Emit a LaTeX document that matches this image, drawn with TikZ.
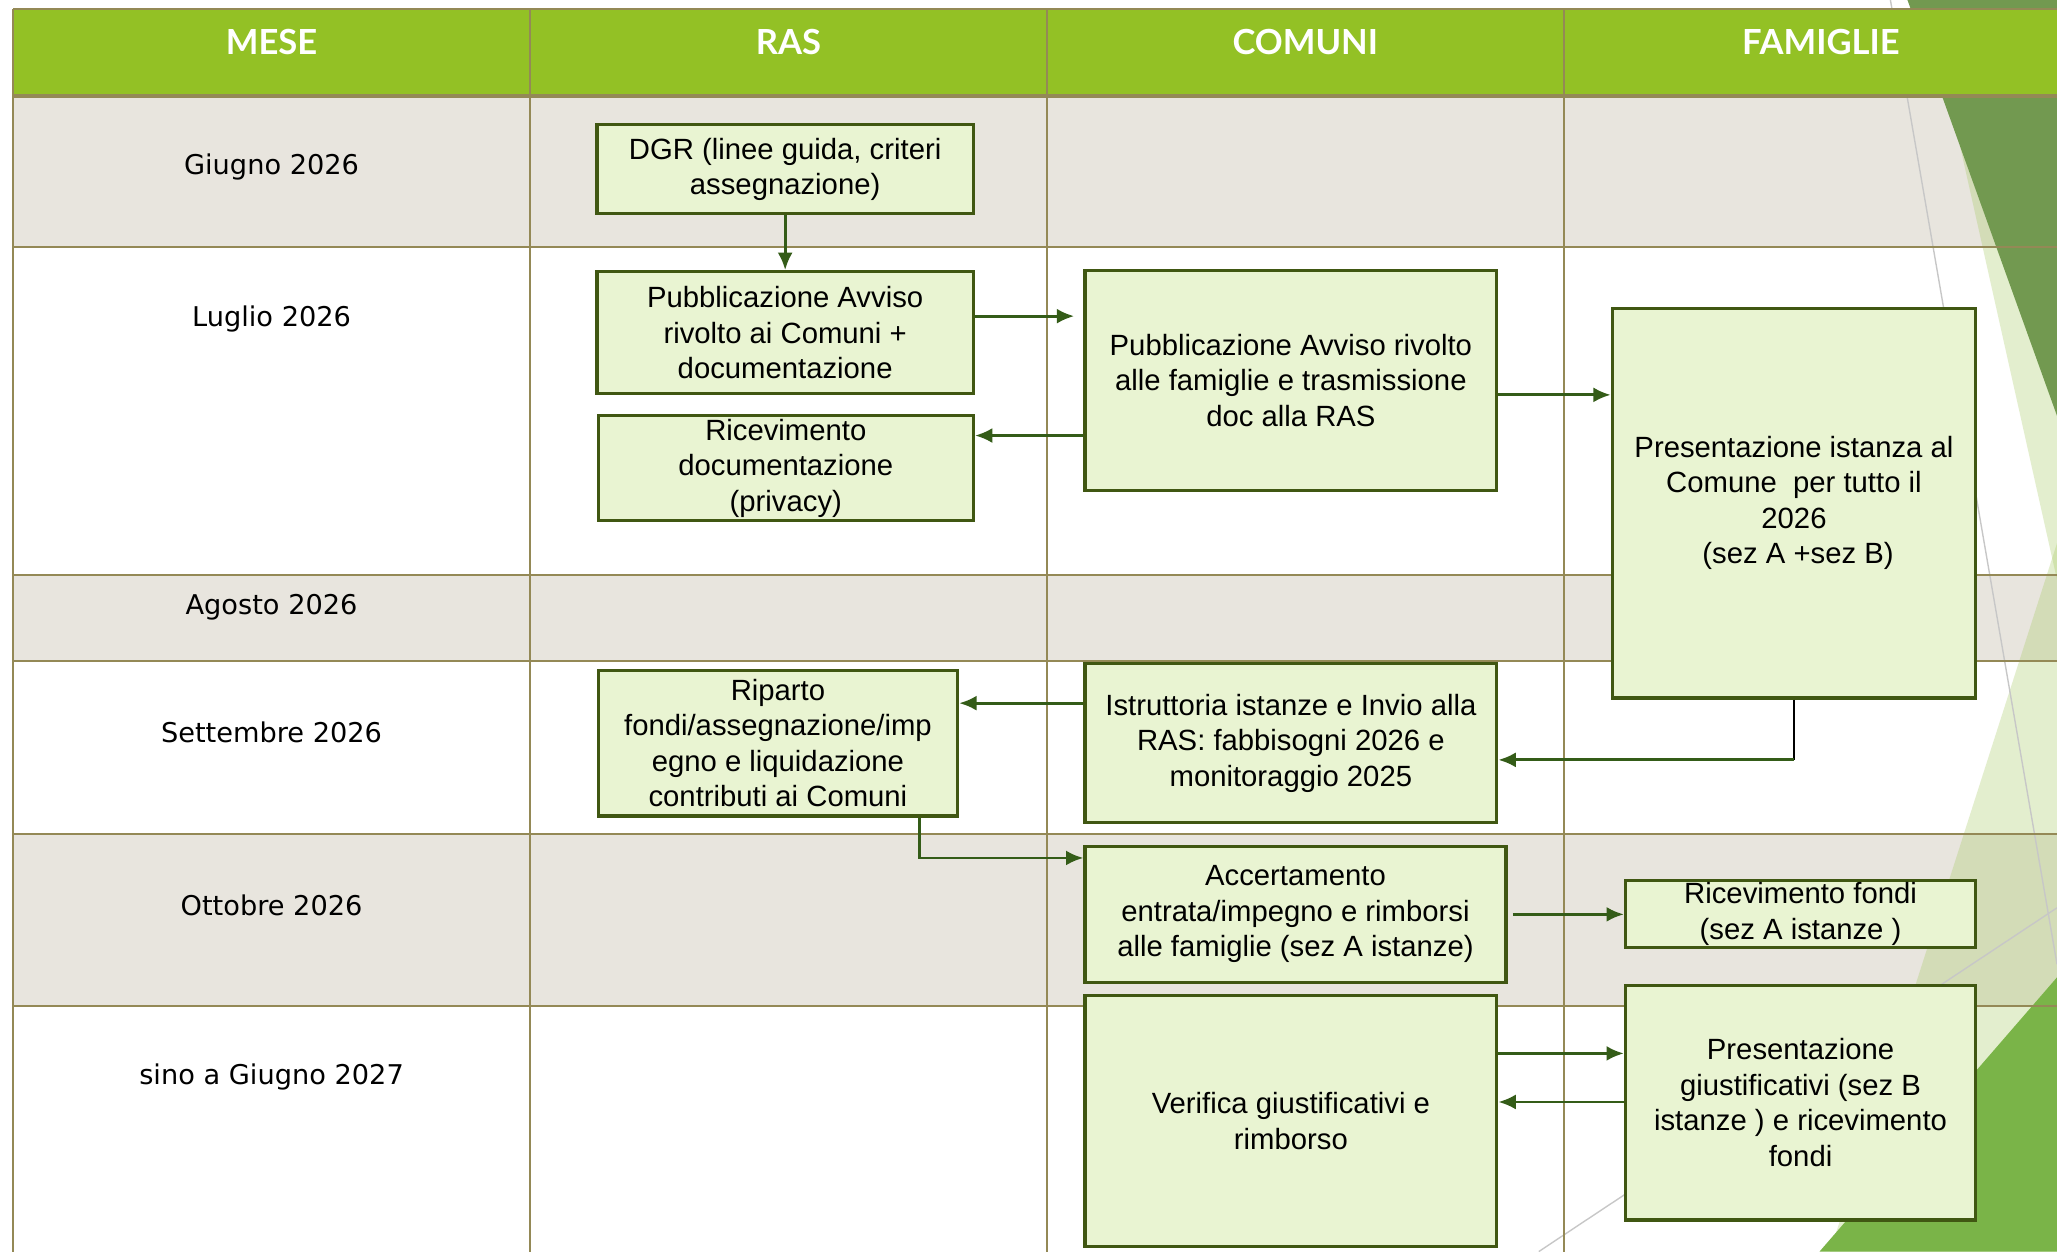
\documentclass[tikz,border=0pt]{standalone}
\usepackage{fontspec}
\setmainfont{Liberation Sans}
\newfontfamily\monthfont{DejaVu Sans}
\newfontfamily\headfont{Lato}
\usetikzlibrary{arrows.meta,calc}

\definecolor{headgreen}{RGB}{147,193,37}
\definecolor{gridbrown}{RGB}{148,137,86}
\definecolor{rowgrey}{RGB}{232,229,222}
\definecolor{boxfill}{RGB}{233,244,210}
\definecolor{boxline}{RGB}{64,87,18}
\definecolor{flowgreen}{RGB}{52,92,24}
\definecolor{facetdark}{RGB}{114,153,80}
\definecolor{facetlight}{RGB}{165,200,95}
\definecolor{facetbright}{RGB}{122,180,72}

\tikzset{
  actbox/.style 2 args={draw=boxline, fill=boxfill, line width=1.4pt, inner sep=0pt,
    align=center, minimum width=#1*0.2mm, minimum height=#2*0.2mm,
    font=\fontsize{12.7}{15.4}\selectfont},
  flow/.style={->, draw=flowgreen, line width=1.2pt},
  tableline/.style={draw=gridbrown, line width=0.9pt},
  facetthin/.style={draw=black!22, line width=0.6pt},
  monthlbl/.style={font=\monthfont\fontsize{11.8}{14}\selectfont},
  headlbl/.style={text=white, font=\headfont\bfseries\fontsize{15}{18}\selectfont}
}

\begin{document}
\begin{tikzpicture}[x=0.2mm,y=-0.2mm,>={Latex[length=7.5pt,width=6.5pt]}]
% Page frame
\fill[white] (0,0) rectangle (1568,954);
\useasboundingbox (0,0) rectangle (1568,954);
\clip (0,0) rectangle (1568,954);

% Grey rows
\foreach \ya/\yb in {73/188,438/504,636/767} {
  \fill[rowgrey] (10,\ya) rectangle (1584,\yb);
}

% Facets on the right
\fill[facetlight, opacity=0.3] (1494,111) -- (1568,442) -- (1568,111) -- cycle;
\fill[facetdark] (1454,0) -- (1568,0) -- (1568,317) -- cycle;
\fill[facetlight, opacity=0.3] (1568,414) -- (1395,954) -- (1568,954) -- cycle;
\fill[facetbright] (1387,954) -- (1568,745) -- (1568,954) -- cycle;
\draw[facetthin] (1441,0) -- (1568,735);
\draw[facetthin] (1173,954) -- (1568,692);

% Table lines
\foreach \y in {188,438,504,636,767} {
  \draw[tableline] (10,\y) -- (1584,\y);
}
\foreach \x in {10,404,798,1192} {
  \draw[tableline] (\x,7) -- (\x,954);
}

% Header
\fill[headgreen] (10,7) rectangle (1584,73);
\draw[tableline] (10,7) -- (1584,7);
\draw[tableline, line width=1.8pt] (10,73) -- (1584,73);
\foreach \x in {10,404,798,1192} {
  \draw[tableline] (\x,7) -- (\x,73);
}
\node[headlbl] (hmese) at (207,32) {MESE};
\node[headlbl] (hras) at (601,32) {RAS};
\node[headlbl] (hcomuni) at (995,32) {COMUNI};
\node[headlbl] (hfamiglie) at (1388,32) {FAMIGLIE};

% Months
\foreach \y/\t in {127/Giugno 2026,243/Luglio 2026,463/Agosto 2026,558/Settembre 2026,690/Ottobre 2026,821/sino a Giugno 2027} {
  \node[monthlbl] (m\y) at (207,\y) {\t};
}

% RAS
\node[actbox={287}{68}] (dgr) at (598.5,129) {DGR (linee guida, criteri\\assegnazione)};
\node[actbox={287}{93}] (pubras) at (598.5,253.5) {Pubblicazione Avviso\\rivolto ai Comuni +\\documentazione};
\node[actbox={286}{80}] (ricdoc) at (599,357) {Ricevimento\\documentazione\\(privacy)};
\node[actbox={274}{111}] (riparto) at (593,566.5) {Riparto\\fondi/assegnazione/imp\\egno e liquidazione\\contributi ai Comuni};

% Comuni
\node[actbox={314}{168}] (pubcom) at (984,290) {Pubblicazione Avviso rivolto\\alle famiglie e trasmissione\\doc alla RAS};
\node[actbox={314}{121}] (istrutt) at (984,566.5) {Istruttoria istanze e Invio alla\\RAS: fabbisogni 2026 e\\monitoraggio 2025};
\node[actbox={321}{104}] (accert) at (987.5,697) {Accertamento\\entrata/impegno e rimborsi\\alle famiglie (sez A istanze)};
\node[actbox={314}{191}] (verifica) at (984,854.5) {Verifica giustificativi e\\rimborso};

% Famiglie
\node[actbox={277}{297}] (istanza) at (1367.5,383.5) {Presentazione istanza al\\Comune\ \ per tutto il\\2026\\\ (sez A +sez B)};
\node[actbox={267}{51}] (ricfondi) at (1372.5,696.5) {Ricevimento fondi\\(sez A istanze )};
\node[actbox={267}{179}] (giustif) at (1372.5,840.5) {Presentazione\\giustificativi (sez B\\istanze ) e ricevimento\\fondi};

% Flows
\draw[flow] (dgr) -- (pubras);
\draw[flow, shorten >=1.4mm] ($(pubras.east)+(0,-12.5)$) coordinate (a2) -- (a2 -| pubcom.west);
\draw[flow] ($(pubcom.west)+(0,42)$) coordinate (a3) -- (a3 -| ricdoc.east);
\draw[flow] ($(pubcom.east)+(0,11)$) coordinate (a4) -- (a4 -| istanza.west);
\coordinate (bend) at ($(istanza.south)+(0,46)$);
\draw[black, line width=0.8pt] (istanza.south) -- (bend);
\draw[flow] (bend) -- (bend -| istrutt.east);
\draw[flow] ($(istrutt.west)+(0,-30.5)$) coordinate (a6) -- (a6 -| riparto.east);
\draw[flow] ($(riparto.south)+(108,0)$) |- ($(accert.west)+(0,-43)$);
\draw[flow, shorten <=0.8mm] (accert.east) -- (accert.east -| ricfondi.west);
\draw[flow] ($(verifica.east)+(0,-51.5)$) coordinate (a9) -- (a9 -| giustif.west);
\coordinate (a10) at ($(verifica.east)+(0,-14.5)$);
\draw[flow] (a10 -| giustif.west) -- (a10);

\end{tikzpicture}
\end{document}
